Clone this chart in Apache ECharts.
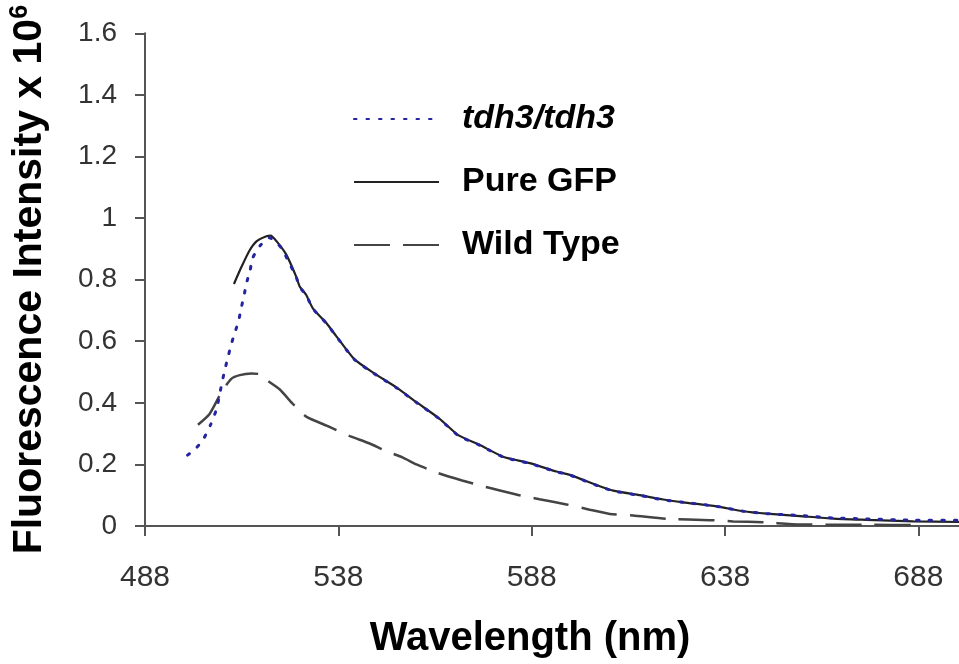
<!DOCTYPE html>
<html>
<head>
<meta charset="utf-8">
<script src="https://cdn.jsdelivr.net/npm/echarts@6/dist/echarts.min.js"></script>
<style>
html,body{margin:0;padding:0;background:#fff;}
#chart{width:959px;height:664px;}
</style>
</head>
<body>
<div id="chart"></div>
<script>
// Axis ticks
var xTicks = [488, 538, 588, 638, 688];
var yTicks = [0, 0.2, 0.4, 0.6, 0.8, 1, 1.2, 1.4, 1.6];

// tdh3/tdh3 (dotted blue)
var tdhX = [499, 501, 503, 505, 506.5, 507.5, 508.5, 509.3, 510.3, 511.2, 512.2, 512.9, 513.6, 514.2, 515.2, 515.9, 517.8, 520.2, 523.2, 525, 527.1, 528, 529.7, 531.4, 534.9, 537.5, 542.2, 547, 553, 558.2, 564.2, 569, 574.6, 580.6, 587.5, 594.4, 597.9, 605.6, 609.1, 616, 622, 627.2, 635.8, 642.7, 648.8, 657.4, 666, 674.6, 686.7, 698.5];
var tdhY = [0.23, 0.25, 0.28, 0.33, 0.38, 0.44, 0.50, 0.54, 0.59, 0.626, 0.666, 0.709, 0.747, 0.786, 0.832, 0.872, 0.911, 0.936, 0.904, 0.862, 0.808, 0.776, 0.749, 0.706, 0.658, 0.615, 0.54, 0.497, 0.449, 0.401, 0.347, 0.294, 0.262, 0.224, 0.203, 0.176, 0.165, 0.128, 0.114, 0.099, 0.085, 0.077, 0.064, 0.048, 0.04, 0.034, 0.026, 0.023, 0.019, 0.019];

// Pure GFP (solid black)
var gfpX = [511, 512.9, 515, 516.9, 519.4, 520.5, 522, 524.5, 527.1, 528, 529.7, 531.4, 534.9, 537.5, 542.2, 547, 553, 558.2, 564.2, 569, 574.6, 580.6, 587.5, 594.4, 597.9, 605.6, 609.1, 616, 622, 627.2, 635.8, 642.7, 648.8, 657.4, 666, 674.6, 686.7, 698.5];
var gfpY = [0.786, 0.84, 0.894, 0.925, 0.941, 0.943, 0.925, 0.882, 0.81, 0.778, 0.75, 0.707, 0.659, 0.616, 0.541, 0.498, 0.45, 0.402, 0.348, 0.295, 0.263, 0.225, 0.204, 0.177, 0.166, 0.129, 0.115, 0.1, 0.086, 0.077, 0.064, 0.048, 0.04, 0.032, 0.024, 0.02, 0.015, 0.013];

// Wild Type (dashed grey)
var wtX = [501.7, 504.7, 507.8, 510.3, 512.5, 515.5, 517.6, 519.5, 522.8, 526.2, 529.7, 535.7, 541, 546.1, 550, 554.7, 558.2, 563.8, 570, 577, 584, 590, 597, 603, 608.2, 614.2, 622.9, 634.1, 640.1, 647.9, 657.4, 674.6, 687];
var wtY = [0.329, 0.364, 0.435, 0.478, 0.49, 0.495, 0.493, 0.474, 0.444, 0.397, 0.355, 0.322, 0.292, 0.268, 0.245, 0.222, 0.2, 0.172, 0.148, 0.124, 0.102, 0.087, 0.07, 0.053, 0.039, 0.034, 0.023, 0.019, 0.015, 0.012, 0.005, 0.004, 0.003];

var seriesNames = ['tdh3/tdh3', 'Pure GFP', 'Wild Type'];

function pairs(xs, ys) { return xs.map(function (x, i) { return [x, ys[i]]; }); }

var chart = echarts.init(document.getElementById('chart'), null, {renderer: 'canvas'});
var FONT = '"Liberation Sans", Arial, sans-serif';
chart.setOption({
  animation: false,
  backgroundColor: '#ffffff',
  textStyle: {fontFamily: FONT},
  grid: {left: 145, right: 0, top: 33.3, bottom: 132.5, containLabel: false},
  legend: {
    orient: 'vertical',
    left: 348,
    top: 97,
    itemWidth: 85,
    itemHeight: 14,
    itemGap: 29,
    data: seriesNames,
    itemStyle: {opacity: 0},
    formatter: function (name) { return name === seriesNames[0] ? '{it|' + name + '}' : '{b|' + name + '}'; },
    textStyle: {
      fontFamily: FONT, fontSize: 34, fontWeight: 'bold', color: '#000', padding: [0, 0, 0, 18],
      rich: {
        it: {fontFamily: FONT, fontSize: 34, fontWeight: 'bold', fontStyle: 'italic', color: '#000', lineHeight: 34},
        b: {fontFamily: FONT, fontSize: 34, fontWeight: 'bold', color: '#000', lineHeight: 34}
      }
    }
  },
  xAxis: {
    type: 'value',
    min: xTicks[0],
    max: 698.5,
    interval: 50,
    name: 'Wavelength (nm)',
    nameLocation: 'middle',
    nameGap: 93,
    nameTextStyle: {fontFamily: FONT, fontSize: 40, fontWeight: 'bold', color: '#000', padding: [0, 44, 0, 0]},
    axisLine: {show: true, onZero: false, lineStyle: {color: '#555', width: 2}},
    axisTick: {show: true, length: 10, inside: false, lineStyle: {color: '#555', width: 2}},
    axisLabel: {fontFamily: FONT, fontSize: 30, color: '#333', margin: 37, showMaxLabel: false,
      formatter: function (v) { return xTicks.indexOf(v) >= 0 ? String(v) : ''; }},
    splitLine: {show: false}
  },
  yAxis: {
    type: 'value',
    min: yTicks[0],
    max: yTicks[yTicks.length - 1],
    interval: 0.2,
    name: 'Fluorescence Intensity x 10{sup|6}',
    nameLocation: 'middle',
    nameRotate: 90,
    nameGap: 94,
    nameTextStyle: {fontFamily: FONT, fontSize: 41, fontWeight: 'bold', color: '#000',
      rich: {sup: {fontFamily: FONT, fontSize: 25, fontWeight: 'bold', color: '#000', verticalAlign: 'top', padding: [0, 0, 18, 0]}}},
    axisLine: {show: true, lineStyle: {color: '#555', width: 2}},
    axisTick: {show: true, length: 10, inside: false, lineStyle: {color: '#555', width: 2}},
    axisLabel: {fontFamily: FONT, fontSize: 28, color: '#333', margin: 28,
      formatter: function (v) { return String(Math.round(v * 10) / 10); }},
    splitLine: {show: false}
  },
  series: [
    {
      name: seriesNames[0], type: 'line', symbol: 'none', smooth: 0.2,
      data: pairs(tdhX, tdhY), z: 3,
      lineStyle: {color: '#2424a0', width: 3, type: [2.5, 10], cap: 'round'},
      itemStyle: {color: '#2424a0'}
    },
    {
      name: seriesNames[1], type: 'line', symbol: 'none', smooth: 0.2,
      data: pairs(gfpX, gfpY), z: 2,
      lineStyle: {color: '#222', width: 2.2, type: 'solid'},
      itemStyle: {color: '#222'}
    },
    {
      name: seriesNames[2], type: 'line', symbol: 'none', smooth: 0.2,
      data: pairs(wtX, wtY), z: 2,
      lineStyle: {color: '#444', width: 2.5, type: [36, 13]},
      itemStyle: {color: '#444'}
    }
  ]
});
</script>
</body>
</html>
